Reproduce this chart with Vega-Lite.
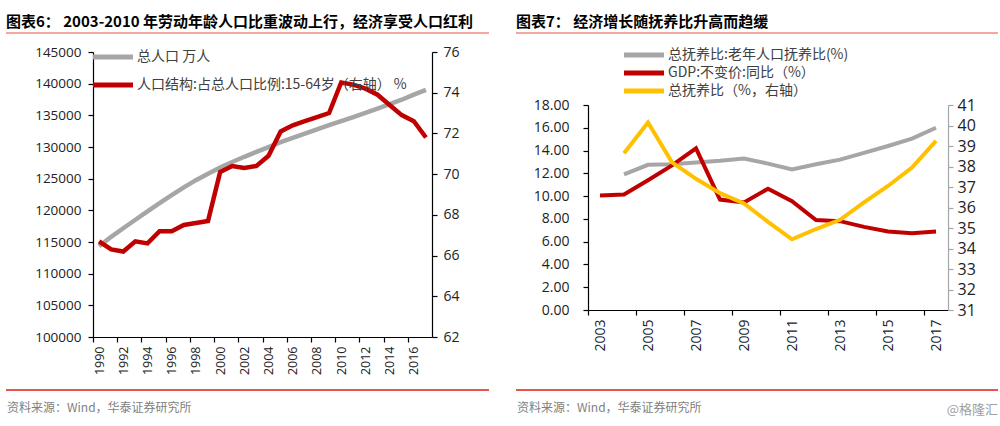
{
  "$schema": "https://vega.github.io/schema/vega-lite/v6.json",
  "background": "white",
  "padding": {"left": 5, "top": 15, "right": 0, "bottom": 0},
  "config": {
    "view": {"stroke": null},
    "font": "Noto Sans CJK SC",
    "title": {"font": "Noto Sans CJK SC"},
    "axis": {"grid": false, "labelOverlap": false, "labelFlush": false, "domainColor": "#000", "tickColor": "#000", "labelColor": "#222", "labelFont": "Open Sans", "title": null, "domainWidth": 1.2, "tickWidth": 1.2},
    "legend": {"labelFont": "Noto Sans CJK SC", "labelColor": "#404040", "labelLimit": 0}
  },
  "datasets": {
    "left": [
      {"year": 1990, "series": "总人口 万人", "value": 114333},
      {"year": 1991, "series": "总人口 万人", "value": 115823},
      {"year": 1992, "series": "总人口 万人", "value": 117171},
      {"year": 1993, "series": "总人口 万人", "value": 118517},
      {"year": 1994, "series": "总人口 万人", "value": 119850},
      {"year": 1995, "series": "总人口 万人", "value": 121121},
      {"year": 1996, "series": "总人口 万人", "value": 122389},
      {"year": 1997, "series": "总人口 万人", "value": 123626},
      {"year": 1998, "series": "总人口 万人", "value": 124761},
      {"year": 1999, "series": "总人口 万人", "value": 125786},
      {"year": 2000, "series": "总人口 万人", "value": 126743},
      {"year": 2001, "series": "总人口 万人", "value": 127627},
      {"year": 2002, "series": "总人口 万人", "value": 128453},
      {"year": 2003, "series": "总人口 万人", "value": 129227},
      {"year": 2004, "series": "总人口 万人", "value": 129988},
      {"year": 2005, "series": "总人口 万人", "value": 130756},
      {"year": 2006, "series": "总人口 万人", "value": 131448},
      {"year": 2007, "series": "总人口 万人", "value": 132129},
      {"year": 2008, "series": "总人口 万人", "value": 132802},
      {"year": 2009, "series": "总人口 万人", "value": 133450},
      {"year": 2010, "series": "总人口 万人", "value": 134091},
      {"year": 2011, "series": "总人口 万人", "value": 134735},
      {"year": 2012, "series": "总人口 万人", "value": 135404},
      {"year": 2013, "series": "总人口 万人", "value": 136072},
      {"year": 2014, "series": "总人口 万人", "value": 136782},
      {"year": 2015, "series": "总人口 万人", "value": 137462},
      {"year": 2016, "series": "总人口 万人", "value": 138271},
      {"year": 2017, "series": "总人口 万人", "value": 139008},
      {"year": 1990, "series": "人口结构:占总人口比例:15-64岁（右轴） %", "value": 66.7},
      {"year": 1991, "series": "人口结构:占总人口比例:15-64岁（右轴） %", "value": 66.3},
      {"year": 1992, "series": "人口结构:占总人口比例:15-64岁（右轴） %", "value": 66.2},
      {"year": 1993, "series": "人口结构:占总人口比例:15-64岁（右轴） %", "value": 66.7},
      {"year": 1994, "series": "人口结构:占总人口比例:15-64岁（右轴） %", "value": 66.6},
      {"year": 1995, "series": "人口结构:占总人口比例:15-64岁（右轴） %", "value": 67.2},
      {"year": 1996, "series": "人口结构:占总人口比例:15-64岁（右轴） %", "value": 67.2},
      {"year": 1997, "series": "人口结构:占总人口比例:15-64岁（右轴） %", "value": 67.5},
      {"year": 1998, "series": "人口结构:占总人口比例:15-64岁（右轴） %", "value": 67.6},
      {"year": 1999, "series": "人口结构:占总人口比例:15-64岁（右轴） %", "value": 67.7},
      {"year": 2000, "series": "人口结构:占总人口比例:15-64岁（右轴） %", "value": 70.1},
      {"year": 2001, "series": "人口结构:占总人口比例:15-64岁（右轴） %", "value": 70.4},
      {"year": 2002, "series": "人口结构:占总人口比例:15-64岁（右轴） %", "value": 70.3},
      {"year": 2003, "series": "人口结构:占总人口比例:15-64岁（右轴） %", "value": 70.4},
      {"year": 2004, "series": "人口结构:占总人口比例:15-64岁（右轴） %", "value": 70.9},
      {"year": 2005, "series": "人口结构:占总人口比例:15-64岁（右轴） %", "value": 72.1},
      {"year": 2006, "series": "人口结构:占总人口比例:15-64岁（右轴） %", "value": 72.4},
      {"year": 2007, "series": "人口结构:占总人口比例:15-64岁（右轴） %", "value": 72.6},
      {"year": 2008, "series": "人口结构:占总人口比例:15-64岁（右轴） %", "value": 72.8},
      {"year": 2009, "series": "人口结构:占总人口比例:15-64岁（右轴） %", "value": 73.0},
      {"year": 2010, "series": "人口结构:占总人口比例:15-64岁（右轴） %", "value": 74.5},
      {"year": 2011, "series": "人口结构:占总人口比例:15-64岁（右轴） %", "value": 74.4},
      {"year": 2012, "series": "人口结构:占总人口比例:15-64岁（右轴） %", "value": 74.2},
      {"year": 2013, "series": "人口结构:占总人口比例:15-64岁（右轴） %", "value": 73.9},
      {"year": 2014, "series": "人口结构:占总人口比例:15-64岁（右轴） %", "value": 73.4},
      {"year": 2015, "series": "人口结构:占总人口比例:15-64岁（右轴） %", "value": 72.9},
      {"year": 2016, "series": "人口结构:占总人口比例:15-64岁（右轴） %", "value": 72.6},
      {"year": 2017, "series": "人口结构:占总人口比例:15-64岁（右轴） %", "value": 71.8}
    ],
    "right": [
      {"year": 2004, "series": "总抚养比:老年人口抚养比(%)", "value": 11.9},
      {"year": 2005, "series": "总抚养比:老年人口抚养比(%)", "value": 12.75},
      {"year": 2006, "series": "总抚养比:老年人口抚养比(%)", "value": 12.8},
      {"year": 2007, "series": "总抚养比:老年人口抚养比(%)", "value": 12.95},
      {"year": 2008, "series": "总抚养比:老年人口抚养比(%)", "value": 13.1},
      {"year": 2009, "series": "总抚养比:老年人口抚养比(%)", "value": 13.3},
      {"year": 2010, "series": "总抚养比:老年人口抚养比(%)", "value": 12.85},
      {"year": 2011, "series": "总抚养比:老年人口抚养比(%)", "value": 12.35},
      {"year": 2012, "series": "总抚养比:老年人口抚养比(%)", "value": 12.8},
      {"year": 2013, "series": "总抚养比:老年人口抚养比(%)", "value": 13.2},
      {"year": 2014, "series": "总抚养比:老年人口抚养比(%)", "value": 13.8},
      {"year": 2015, "series": "总抚养比:老年人口抚养比(%)", "value": 14.4},
      {"year": 2016, "series": "总抚养比:老年人口抚养比(%)", "value": 15.05},
      {"year": 2017, "series": "总抚养比:老年人口抚养比(%)", "value": 16.0},
      {"year": 2003, "series": "GDP:不变价:同比（%）", "value": 10.05},
      {"year": 2004, "series": "GDP:不变价:同比（%）", "value": 10.15},
      {"year": 2005, "series": "GDP:不变价:同比（%）", "value": 11.4},
      {"year": 2006, "series": "GDP:不变价:同比（%）", "value": 12.7},
      {"year": 2007, "series": "GDP:不变价:同比（%）", "value": 14.2},
      {"year": 2008, "series": "GDP:不变价:同比（%）", "value": 9.7},
      {"year": 2009, "series": "GDP:不变价:同比（%）", "value": 9.45},
      {"year": 2010, "series": "GDP:不变价:同比（%）", "value": 10.65},
      {"year": 2011, "series": "GDP:不变价:同比（%）", "value": 9.55},
      {"year": 2012, "series": "GDP:不变价:同比（%）", "value": 7.9},
      {"year": 2013, "series": "GDP:不变价:同比（%）", "value": 7.8},
      {"year": 2014, "series": "GDP:不变价:同比（%）", "value": 7.3},
      {"year": 2015, "series": "GDP:不变价:同比（%）", "value": 6.9},
      {"year": 2016, "series": "GDP:不变价:同比（%）", "value": 6.75},
      {"year": 2017, "series": "GDP:不变价:同比（%）", "value": 6.9},
      {"year": 2004, "series": "总抚养比（%，右轴）", "value": 38.65},
      {"year": 2005, "series": "总抚养比（%，右轴）", "value": 40.15},
      {"year": 2006, "series": "总抚养比（%，右轴）", "value": 38.2},
      {"year": 2007, "series": "总抚养比（%，右轴）", "value": 37.4},
      {"year": 2008, "series": "总抚养比（%，右轴）", "value": 36.7},
      {"year": 2009, "series": "总抚养比（%，右轴）", "value": 36.2},
      {"year": 2010, "series": "总抚养比（%，右轴）", "value": 35.3},
      {"year": 2011, "series": "总抚养比（%，右轴）", "value": 34.45},
      {"year": 2012, "series": "总抚养比（%，右轴）", "value": 34.95},
      {"year": 2013, "series": "总抚养比（%，右轴）", "value": 35.4},
      {"year": 2014, "series": "总抚养比（%，右轴）", "value": 36.25},
      {"year": 2015, "series": "总抚养比（%，右轴）", "value": 37.05},
      {"year": 2016, "series": "总抚养比（%，右轴）", "value": 37.95},
      {"year": 2017, "series": "总抚养比（%，右轴）", "value": 39.25}
    ]
  },
  "spacing": 25,
  "resolve": {"scale": {"color": "independent", "x": "independent", "y": "independent"}, "legend": {"color": "independent"}},
  "hconcat": [
    {
      "spacing": 0,
      "resolve": {"scale": {"color": "independent", "x": "independent", "y": "independent"}, "legend": {"color": "independent"}},
      "vconcat": [
        {
          "width": 483, "height": 1,
          "data": {"values": [{"k": 0}]},
          "title": {"text": "图表6：\u00a02003-2010 年劳动年龄人口比重波动上行，经济享受人口红利", "anchor": "start", "frame": "group", "fontSize": 15, "fontWeight": "bold", "color": "#000", "offset": 2},
          "mark": {"type": "rule", "color": "#f08a80", "strokeWidth": 1.5},
          "encoding": {"y": {"field": "k", "type": "quantitative", "scale": {"domain": [0, 1]}, "axis": null}}
        },
        {
          "width": 483, "height": 355,
          "layer": [
            {
              "data": {"name": "left"},
              "transform": [{"filter": "datum.series === '总人口 万人'"}],
              "mark": {"type": "line", "strokeWidth": 4.5},
              "encoding": {
                "x": {"field": "year", "type": "quantitative", "scale": {"domain": [1989.5, 2017.5], "range": [87, 426], "nice": false, "zero": false},
                  "axis": {"orient": "bottom", "offset": -52, "values": [1990, 1992, 1994, 1996, 1998, 2000, 2002, 2004, 2006, 2008, 2010, 2012, 2014, 2016], "format": "d", "labelAngle": -90, "tickOffset": -6.05, "labelOffset": 6.05, "tickSize": 5, "labelPadding": 4, "labelFontSize": 12.5}},
                "y": {"field": "value", "type": "quantitative", "scale": {"domain": [100000, 145000], "range": [303, 18], "nice": false, "zero": false},
                  "axis": {"orient": "left", "offset": -87, "values": [100000, 105000, 110000, 115000, 120000, 125000, 130000, 135000, 140000, 145000], "format": "d", "tickSize": 5, "labelPadding": 7, "labelFontSize": 13.5}},
                "color": {"field": "series", "type": "nominal",
                  "scale": {"domain": ["总人口 万人", "人口结构:占总人口比例:15-64岁（右轴） %"], "range": ["#a6a6a6", "#c00000"]},
                  "legend": {"orient": "none", "legendX": 84.5, "legendY": 16, "direction": "vertical", "title": null, "symbolType": "stroke", "symbolSize": 1600, "symbolStrokeWidth": 5, "clipHeight": 14, "labelFontSize": 14, "labelOffset": 1.5, "rowPadding": 14}}
              }
            },
            {
              "data": {"name": "left"},
              "transform": [{"filter": "datum.series !== '总人口 万人'"}],
              "mark": {"type": "line", "strokeWidth": 4.5},
              "encoding": {
                "x": {"field": "year", "type": "quantitative", "scale": {"domain": [1989.5, 2017.5], "range": [87, 426], "nice": false, "zero": false},
                  "axis": {"orient": "bottom", "offset": -52, "values": [1990, 1992, 1994, 1996, 1998, 2000, 2002, 2004, 2006, 2008, 2010, 2012, 2014, 2016], "format": "d", "labelAngle": -90, "tickOffset": -6.05, "labelOffset": 6.05, "tickSize": 5, "labelPadding": 4, "labelFontSize": 12.5}},
                "y": {"field": "value", "type": "quantitative", "scale": {"domain": [62, 76], "range": [303, 18], "nice": false, "zero": false},
                  "axis": {"orient": "right", "offset": -57, "values": [62, 64, 66, 68, 70, 72, 74, 76], "format": "d", "tickSize": 5, "labelPadding": 6, "labelFontSize": 14}},
                "color": {"field": "series", "type": "nominal",
                  "scale": {"domain": ["总人口 万人", "人口结构:占总人口比例:15-64岁（右轴） %"], "range": ["#a6a6a6", "#c00000"]}}
              }
            }
          ],
          "resolve": {"scale": {"y": "independent"}}
        },
        {
          "width": 483, "height": 1,
          "data": {"values": [{"k": 1, "x": 0, "src": "资料来源：Wind，华泰证券研究所"}]},
          "layer": [
            {
              "mark": {"type": "rule", "color": "#e8534a", "strokeWidth": 2},
              "encoding": {"y": {"field": "k", "type": "quantitative", "scale": {"domain": [0, 1]}, "axis": null}}
            },
            {
              "mark": {"type": "text", "align": "left", "baseline": "middle", "dy": 18, "dx": 1, "fontSize": 12, "color": "#7f7f7f"},
              "encoding": {
                "text": {"field": "src"},
                "x": {"field": "x", "type": "quantitative", "scale": {"domain": [0, 1]}, "axis": null},
                "y": {"field": "k", "type": "quantitative", "scale": {"domain": [0, 1]}, "axis": null}
              }
            }
          ]
        }
      ]
    },
    {
      "spacing": 0,
      "resolve": {"scale": {"color": "independent", "x": "independent", "y": "independent"}, "legend": {"color": "independent"}},
      "vconcat": [
        {
          "width": 482, "height": 1,
          "data": {"values": [{"k": 0}]},
          "title": {"text": "图表7：\u00a0经济增长随抚养比升高而趋缓", "anchor": "start", "frame": "group", "fontSize": 15, "fontWeight": "bold", "color": "#000", "offset": 2},
          "mark": {"type": "rule", "color": "#f08a80", "strokeWidth": 1.5},
          "encoding": {"y": {"field": "k", "type": "quantitative", "scale": {"domain": [0, 1]}, "axis": null}}
        },
        {
          "width": 482, "height": 355,
          "layer": [
            {
              "data": {"name": "right"},
              "transform": [{"filter": "datum.series !== '总抚养比（%，右轴）'"}],
              "mark": {"type": "line", "strokeWidth": 4},
              "encoding": {
                "x": {"field": "year", "type": "quantitative", "scale": {"domain": [2002.5, 2017.5], "range": [72, 432], "nice": false, "zero": false},
                  "axis": {"orient": "bottom", "offset": -79, "values": [2003, 2005, 2007, 2009, 2011, 2013, 2015, 2017], "format": "d", "labelAngle": -90, "tickOffset": -12, "labelOffset": 12, "tickSize": 5, "labelPadding": 4, "labelFontSize": 14}},
                "y": {"field": "value", "type": "quantitative", "scale": {"domain": [0, 18], "range": [276, 71], "nice": false, "zero": false},
                  "axis": {"orient": "left", "offset": -72, "values": [0, 2, 4, 6, 8, 10, 12, 14, 16, 18], "format": ".2f", "tickSize": 5, "labelPadding": 14, "labelFontSize": 14}},
                "color": {"field": "series", "type": "nominal",
                  "scale": {"domain": ["总抚养比:老年人口抚养比(%)", "GDP:不变价:同比（%）", "总抚养比（%，右轴）"], "range": ["#a6a6a6", "#c00000", "#ffc000"]},
                  "legend": {"orient": "none", "legendX": 105.5, "legendY": 14, "direction": "vertical", "title": null, "symbolType": "stroke", "symbolSize": 1600, "symbolStrokeWidth": 5, "clipHeight": 14, "labelFontSize": 14, "labelOffset": 1.5, "rowPadding": 4}}
              }
            },
            {
              "data": {"name": "right"},
              "transform": [{"filter": "datum.series === '总抚养比（%，右轴）'"}],
              "mark": {"type": "line", "strokeWidth": 4},
              "encoding": {
                "x": {"field": "year", "type": "quantitative", "scale": {"domain": [2002.5, 2017.5], "range": [72, 432], "nice": false, "zero": false},
                  "axis": {"orient": "bottom", "offset": -79, "values": [2003, 2005, 2007, 2009, 2011, 2013, 2015, 2017], "format": "d", "labelAngle": -90, "tickOffset": -12, "labelOffset": 12, "tickSize": 5, "labelPadding": 4, "labelFontSize": 14}},
                "y": {"field": "value", "type": "quantitative", "scale": {"domain": [31, 41], "range": [276, 71], "nice": false, "zero": false},
                  "axis": {"orient": "right", "offset": -50, "values": [31, 32, 33, 34, 35, 36, 37, 38, 39, 40, 41], "format": "d", "tickSize": 5, "labelPadding": 4, "labelFontSize": 16, "domainColor": "#a6a6a6", "tickColor": "#a6a6a6"}},
                "color": {"field": "series", "type": "nominal",
                  "scale": {"domain": ["总抚养比:老年人口抚养比(%)", "GDP:不变价:同比（%）", "总抚养比（%，右轴）"], "range": ["#a6a6a6", "#c00000", "#ffc000"]}}
              }
            }
          ],
          "resolve": {"scale": {"y": "independent"}}
        },
        {
          "width": 482, "height": 1,
          "data": {"values": [{"k": 1, "x0": 0, "x1": 1, "src": "资料来源：Wind，华泰证券研究所", "wm": "@格隆汇"}]},
          "layer": [
            {
              "mark": {"type": "rule", "color": "#e8534a", "strokeWidth": 2},
              "encoding": {"y": {"field": "k", "type": "quantitative", "scale": {"domain": [0, 1]}, "axis": null}}
            },
            {
              "mark": {"type": "text", "align": "left", "baseline": "middle", "dy": 18, "dx": 1, "fontSize": 12, "color": "#7f7f7f"},
              "encoding": {
                "text": {"field": "src"},
                "x": {"field": "x0", "type": "quantitative", "scale": {"domain": [0, 1]}, "axis": null},
                "y": {"field": "k", "type": "quantitative", "scale": {"domain": [0, 1]}, "axis": null}
              }
            },
            {
              "mark": {"type": "text", "align": "right", "baseline": "middle", "dy": 20, "fontSize": 13, "color": "#a0a0a0"},
              "encoding": {
                "text": {"field": "wm"},
                "x": {"field": "x1", "type": "quantitative", "scale": {"domain": [0, 1]}, "axis": null},
                "y": {"field": "k", "type": "quantitative", "scale": {"domain": [0, 1]}, "axis": null}
              }
            }
          ]
        }
      ]
    }
  ]
}
